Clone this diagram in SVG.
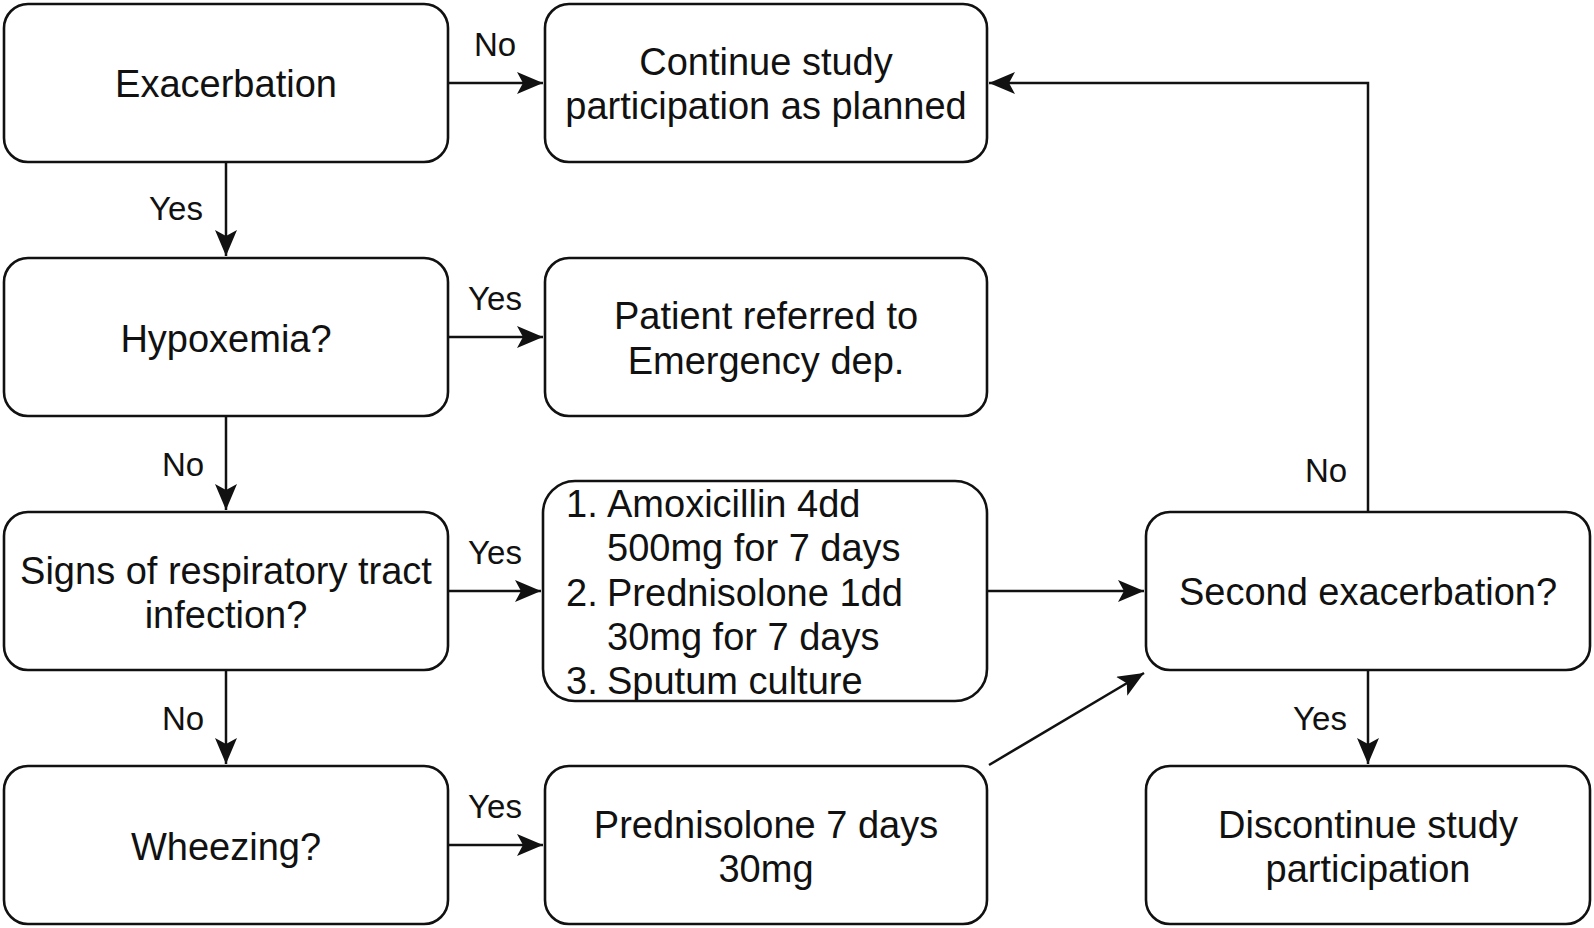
<svg xmlns="http://www.w3.org/2000/svg" width="1594" height="928" viewBox="0 0 1594 928">
<defs>
<marker id="arr" markerUnits="userSpaceOnUse" markerWidth="28" markerHeight="24" refX="26" refY="11" orient="auto">
<path d="M0,0 L26,11 L0,22 L6,11 Z" fill="#111"/>
</marker>
<style>
.box{fill:#fff;stroke:#111;stroke-width:2.6}
.t{font-family:"Liberation Sans",Arial,sans-serif;font-size:38px;fill:#111;text-anchor:middle}
.tl{font-family:"Liberation Sans",Arial,sans-serif;font-size:38px;fill:#111}
.lb{font-family:"Liberation Sans",Arial,sans-serif;font-size:33px;fill:#111;text-anchor:middle}
.c{fill:none;stroke:#111;stroke-width:2.5}
</style>
</defs>
<rect width="1594" height="928" fill="#fff"/>
<g id="connectors">
<line class="c" x1="448" y1="83" x2="543" y2="83" marker-end="url(#arr)"/>
<line class="c" x1="226" y1="162" x2="226" y2="256" marker-end="url(#arr)"/>
<line class="c" x1="448" y1="337" x2="543" y2="337" marker-end="url(#arr)"/>
<line class="c" x1="226" y1="416" x2="226" y2="510" marker-end="url(#arr)"/>
<line class="c" x1="448" y1="591" x2="541" y2="591" marker-end="url(#arr)"/>
<line class="c" x1="226" y1="670" x2="226" y2="764" marker-end="url(#arr)"/>
<line class="c" x1="448" y1="845" x2="543" y2="845" marker-end="url(#arr)"/>
<line class="c" x1="987" y1="591" x2="1144" y2="591" marker-end="url(#arr)"/>
<line class="c" x1="989" y1="765" x2="1144" y2="673" marker-end="url(#arr)"/>
<polyline class="c" points="1368,512 1368,83 989,83" marker-end="url(#arr)"/>
<line class="c" x1="1368" y1="670" x2="1368" y2="764" marker-end="url(#arr)"/>
<text class="lb" x="495" y="56">No</text>
<text class="lb" x="176" y="220">Yes</text>
<text class="lb" x="495" y="310">Yes</text>
<text class="lb" x="183" y="476">No</text>
<text class="lb" x="495" y="564">Yes</text>
<text class="lb" x="183" y="730">No</text>
<text class="lb" x="495" y="818">Yes</text>
<text class="lb" x="1326" y="482">No</text>
<text class="lb" x="1320" y="730">Yes</text>
</g>
<g id="n-exacerbation">
<rect class="box" x="4" y="4" width="444" height="158" rx="24"/>
<text class="t" x="226" y="97">Exacerbation</text>
</g>
<g id="n-continue">
<rect class="box" x="545" y="4" width="442" height="158" rx="24"/>
<text class="t" x="766" y="75">Continue study</text>
<text class="t" x="766" y="119">participation as planned</text>
</g>
<g id="n-hypoxemia">
<rect class="box" x="4" y="258" width="444" height="158" rx="24"/>
<text class="t" x="226" y="352">Hypoxemia?</text>
</g>
<g id="n-emergency">
<rect class="box" x="545" y="258" width="442" height="158" rx="24"/>
<text class="t" x="766" y="329">Patient referred to</text>
<text class="t" x="766" y="374">Emergency dep.</text>
</g>
<g id="n-signs">
<rect class="box" x="4" y="512" width="444" height="158" rx="24"/>
<text class="t" x="226" y="584">Signs of respiratory tract</text>
<text class="t" x="226" y="628">infection?</text>
</g>
<g id="n-amox">
<rect class="box" x="543" y="481" width="444" height="220" rx="32"/>
<text class="tl" x="566" y="517">1.</text><text class="tl" x="607" y="517">Amoxicillin 4dd</text>
<text class="tl" x="607" y="561">500mg for 7 days</text>
<text class="tl" x="566" y="606">2.</text><text class="tl" x="607" y="606">Prednisolone 1dd</text>
<text class="tl" x="607" y="650">30mg for 7 days</text>
<text class="tl" x="566" y="694">3.</text><text class="tl" x="607" y="694">Sputum culture</text>
</g>
<g id="n-wheezing">
<rect class="box" x="4" y="766" width="444" height="158" rx="24"/>
<text class="t" x="226" y="860">Wheezing?</text>
</g>
<g id="n-pred">
<rect class="box" x="545" y="766" width="442" height="158" rx="24"/>
<text class="t" x="766" y="838">Prednisolone 7 days</text>
<text class="t" x="766" y="882">30mg</text>
</g>
<g id="n-second">
<rect class="box" x="1146" y="512" width="444" height="158" rx="24"/>
<text class="t" x="1368" y="605">Second exacerbation?</text>
</g>
<g id="n-discontinue">
<rect class="box" x="1146" y="766" width="444" height="158" rx="24"/>
<text class="t" x="1368" y="838">Discontinue study</text>
<text class="t" x="1368" y="882">participation</text>
</g>
</svg>
